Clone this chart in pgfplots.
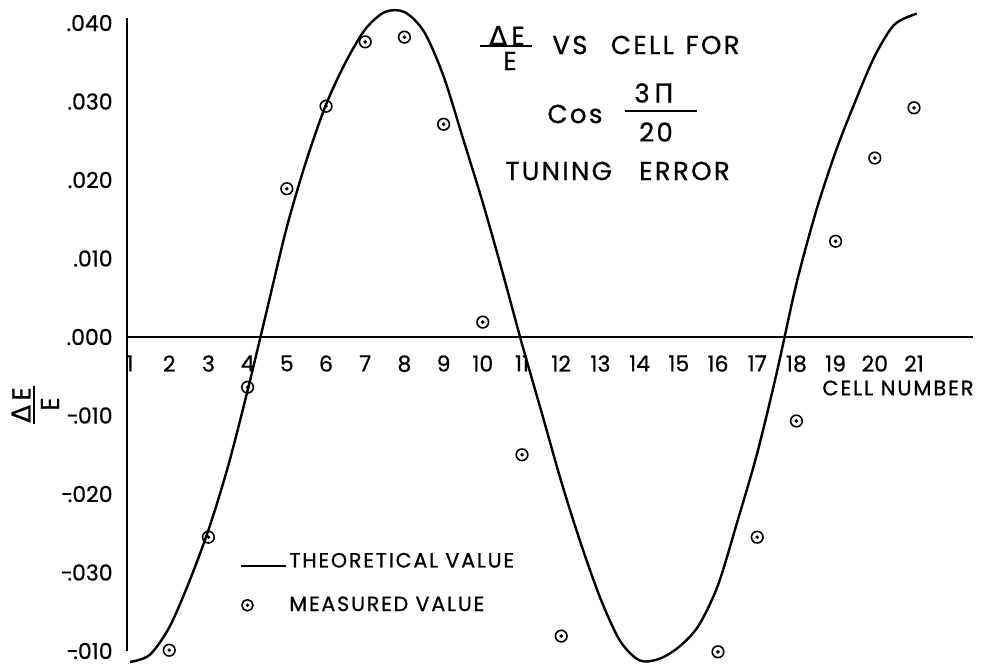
\documentclass[border=0pt]{standalone}
\usepackage{fontspec}
\setmainfont{Poppins}[FakeBold=0.6]
\newfontfamily\lettering{Poppins}[FakeBold=0.8, LetterSpace=9]
\newfontfamily\greekfont{DejaVu Sans}[FakeBold=0.6]
\usepackage{pgfplots}
\usepackage{pgfplotstable}
\pgfplotsset{compat=1.18}

% ring with a centre dot, as used for measured points
\pgfdeclareplotmark{ringdot}{%
  \pgfpathcircle{\pgfpointorigin}{\pgfplotmarksize}\pgfusepathqstroke
  \pgfpathcircle{\pgfpointorigin}{0.34\pgfplotmarksize}\pgfusepathqfill}

\pgfplotsset{
  theory legend/.style={legend image code/.code={%
    \draw[black, line width=1pt] (0pt,-2pt) -- (22.5pt,-2pt);}},
  measured legend/.style={legend image code/.code={%
    \path[draw=none] (0pt,-2pt) -- (22.5pt,-2pt);
    \draw[only marks, mark=ringdot, mark size=2.8pt,
      mark options={black, line width=0.8pt}] plot coordinates {(3pt,0pt)};}},
}

% measured relative field error per cell
\pgfplotstableread{
cell dE
2  -0.0399
3  -0.0255
4  -0.0064
5   0.0189
6   0.0294
7   0.0376
8   0.0382
9   0.0271
10  0.0019
11 -0.0150
12 -0.0381
16 -0.0401
17 -0.0255
18 -0.0107
19  0.0122
20  0.0228
21  0.0292
}\measured

% theoretical curve, half-cell steps
\pgfplotstableread{
cell dE
1.0  -0.0414
1.5  -0.0405
2.0  -0.0370
2.5  -0.0313
3.0  -0.0246
3.5  -0.0165
4.0  -0.0068
4.5   0.0036
5.0   0.0140
5.5   0.0225
6.0   0.0296
6.5   0.0350
7.0   0.0392
7.5   0.0414
8.0   0.0414
8.5   0.0389
9.0   0.0332
9.5   0.0252
10.0  0.0171
10.5  0.0083
11.0 -0.0009
11.5 -0.0096
12.0 -0.0184
12.5 -0.0263
13.0 -0.0333
13.5 -0.0387
14.0 -0.0412
14.5 -0.0410
15.0 -0.0395
15.5 -0.0368
16.0 -0.0316
16.5 -0.0234
17.0 -0.0148
17.5 -0.0045
18.0  0.0068
18.5  0.0160
19.0  0.0236
19.5  0.0300
20.0  0.0358
20.5  0.0398
21.07 0.0412
}\theory

\newcommand\ticksize{\fontsize{11}{13}\selectfont}
\newcommand\titlesize{\lettering\fontsize{13}{15}\selectfont}

\begin{document}
\begin{tikzpicture}
\begin{axis}[
  at={(63.5pt,-325.5pt)}, anchor=south west,
  scale only axis, width=423pt, height=316.5pt,
  xmin=0.923, xmax=22.505, ymin=-0.040, ymax=0.04064,
  clip=false,
  axis x line=middle, axis y line=left,
  x axis line style={-, line width=1pt},
  y axis line style={-, line width=1pt},
  major tick length=0pt,
  scaled y ticks=false,
  xtick={1,2,...,21},
  xticklabels={1,2,3,4,5,6,7,8,9,10,11,12,13,14,15,16,17,18,19,20,21},
  ytick={-0.04,-0.03,-0.02,-0.01,0,0.01,0.02,0.03,0.04},
  yticklabels={-\kern-0.25em.010,-\kern-0.25em.030,-\kern-0.25em.020,-\kern-0.25em.010,.000,.010,.020,.030,.040},
  ticklabel style={font=\ticksize, inner sep=0pt},
  xticklabel style={anchor=north, yshift=-9pt},
  yticklabel style={anchor=east, xshift=-7pt},
  legend style={at={(axis cs:3.806,-0.0272)}, anchor=north west,
    draw=none, fill=none, inner sep=0pt, row sep=11pt,
    font=\lettering\fontsize{10.3}{12}\selectfont, nodes={inner sep=1pt}},
  legend cell align=left,
]
\addplot[black, line width=1.2pt, smooth, theory legend]
  table[x=cell, y=dE] {\theory};
\addlegendentry{THEORETICAL VALUE}
\addplot[only marks, mark=ringdot, mark size=2.9pt,
  mark options={black, line width=0.8pt}, measured legend]
  table[x=cell, y=dE] {\measured};
\addlegendentry{MEASURED VALUE}
\end{axis}

\begin{scope}[x=0.5pt, y=-0.5pt]
  \path (0,0) rectangle (981,666);
  % title block
  \node[font=\titlesize] at (507,35.5) {{\greekfont Δ}\,E};
  \draw[line width=1pt] (480,46) -- (532,46);
  \node[font=\titlesize] at (510,61) {E};
  \node[font=\titlesize, anchor=west, inner sep=0pt] at (552,45) {VS\hspace{0.9em}CELL\hspace{0.45em}FOR};
  \node[font=\titlesize] at (575,114) {Cos};
  \node[font=\titlesize] at (654,93) {3\,{\greekfont Π}};
  \draw[line width=1pt] (625,111) -- (697,111);
  \node[font=\titlesize] at (656,132) {20};
  \node[font=\titlesize, anchor=west, inner sep=0pt] at (505,171) {TUNING\hspace{1.05em}ERROR};
  % x-axis caption
  \node[font=\lettering\fontsize{10.5}{12}\selectfont, anchor=west, inner sep=0pt] at (822,388) {CELL NUMBER};
  % y-axis caption: rotated fraction
  \node[font=\titlesize, rotate=90] at (21,405) {{\greekfont Δ}\,E};
  \draw[line width=1pt] (34,386) -- (34,424);
  \node[font=\titlesize, rotate=90] at (50,404) {E};
\end{scope}
\end{tikzpicture}
\end{document}
